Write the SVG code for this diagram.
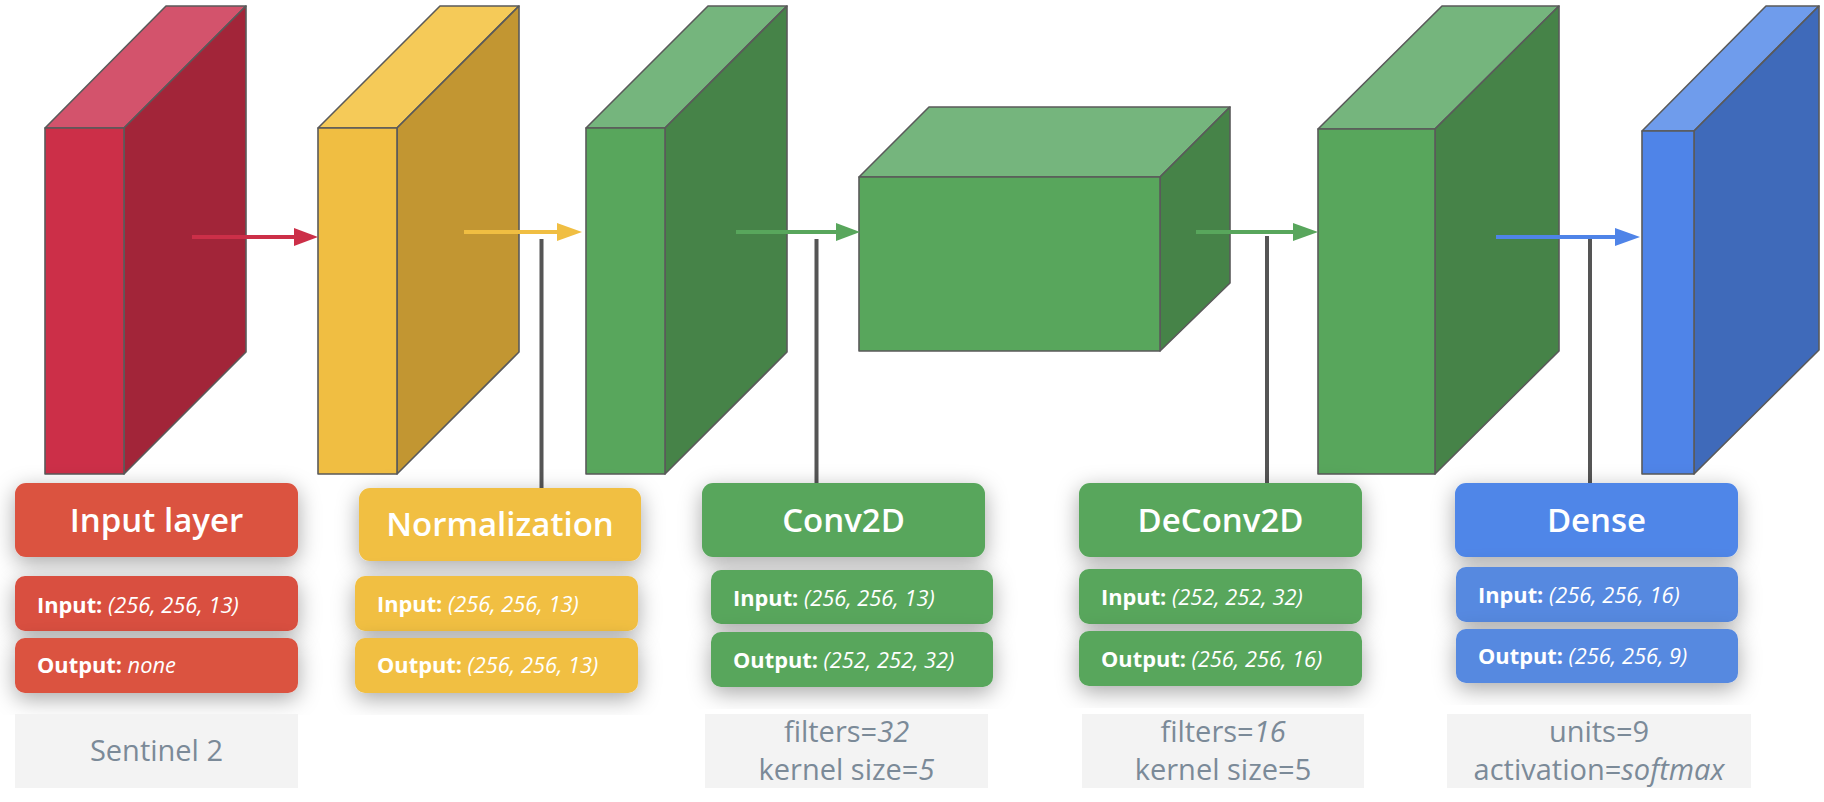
<svg xmlns="http://www.w3.org/2000/svg" width="1824" height="802" viewBox="0 0 1824 802">
<defs>
<style>
.f{stroke:#5a5a5a;stroke-width:1.6;stroke-linejoin:round}
.rf{fill:#cc2f48}.rt{fill:#d3536c}.rr{fill:#a22539}
.yf{fill:#f0be42}.yt{fill:#f5ca58}.yr{fill:#c29632}
.gf{fill:#58a65c}.gt{fill:#75b57d}.gr{fill:#468348}
.bf{fill:#4f84e8}.bt{fill:#6f9cec}.br{fill:#3f6aba}
.card{filter:url(#sh)}
.title{font-family:"Open Sans","Liberation Sans",sans-serif;font-weight:600;font-size:33px;fill:#fff;text-anchor:middle}
.row{font-family:"Open Sans","Liberation Sans",sans-serif;font-size:21.8px;fill:#fff}
.row .k{font-weight:700}
.it{font-style:italic;font-weight:400}
.note{fill:#f3f3f3}
.nt{font-family:"Open Sans","Liberation Sans",sans-serif;font-size:29px;fill:#7b8a98;text-anchor:middle}
.stem{stroke:#555;stroke-width:4}
</style>
<filter id="sh" x="-20%" y="-40%" width="140%" height="180%">
<feDropShadow dx="0" dy="6" stdDeviation="11" flood-color="#000" flood-opacity="0.34"/>
</filter>
</defs>
<rect width="1824" height="802" fill="#fff"/>

<g id="block-input">
<polygon class="f rt" points="45,128 166,6 246,6 124,128"/>
<polygon class="f rr" points="124,128 246,6 246,352 124,474"/>
<rect class="f rf" x="45" y="128" width="79" height="346"/>
</g>
<g id="block-norm">
<polygon class="f yt" points="318,128 440,6 519,6 397,128"/>
<polygon class="f yr" points="397,128 519,6 519,352 397,474"/>
<rect class="f yf" x="318" y="128" width="79" height="346"/>
</g>
<g id="block-conv">
<polygon class="f gt" points="586,128 708,6 787,6 665,128"/>
<polygon class="f gr" points="665,128 787,6 787,352 665,474"/>
<rect class="f gf" x="586" y="128" width="79" height="346"/>
</g>
<g id="block-mid">
<polygon class="f gt" points="859,177 929,107 1230,107 1160,177"/>
<polygon class="f gr" points="1160,177 1230,107 1230,283 1160,351"/>
<rect class="f gf" x="859" y="177" width="301" height="174"/>
</g>
<g id="block-deconv">
<polygon class="f gt" points="1318,129 1442,6 1559,6 1435,129"/>
<polygon class="f gr" points="1435,129 1559,6 1559,351 1435,474"/>
<rect class="f gf" x="1318" y="129" width="117" height="345"/>
</g>
<g id="block-dense">
<polygon class="f bt" points="1642,131 1766,6 1819,6 1694,131"/>
<polygon class="f br" points="1694,131 1819,6 1819,350 1694,474"/>
<rect class="f bf" x="1642" y="131" width="52" height="343"/>
</g>

<g id="connectors">
<line class="stem" x1="541.5" y1="239" x2="541.5" y2="490"/>
<line class="stem" x1="816.5" y1="239" x2="816.5" y2="485"/>
<line class="stem" x1="1267" y1="236" x2="1267" y2="485"/>
<line class="stem" x1="1590" y1="237" x2="1590" y2="485"/>
<line x1="192" y1="237" x2="297" y2="237" stroke="#cc2f48" stroke-width="4"/>
<polygon points="294,228 318,237 294,246" fill="#cc2f48"/>
<line x1="464" y1="232" x2="560" y2="232" stroke="#f0be42" stroke-width="4"/>
<polygon points="557,223 582,232 557,241" fill="#f0be42"/>
<line x1="736" y1="232" x2="838" y2="232" stroke="#58a65c" stroke-width="4"/>
<polygon points="836,223 860,232 836,241" fill="#58a65c"/>
<line x1="1196" y1="232" x2="1295" y2="232" stroke="#58a65c" stroke-width="4"/>
<polygon points="1293,223 1318,232 1293,241" fill="#58a65c"/>
<line x1="1496" y1="237" x2="1617" y2="237" stroke="#4f84e8" stroke-width="4"/>
<polygon points="1615,228 1640,237 1615,246" fill="#4f84e8"/>
</g>

<g id="card-input">
<rect class="card" x="15" y="483" width="283" height="74" rx="11" fill="#db5241"/>
<text class="title" x="156.5" y="532">Input layer</text>
<rect class="card" x="15" y="576" width="283" height="55" rx="10" fill="#d95040"/>
<text class="row" x="37" y="613"><tspan class="k">Input:</tspan> <tspan class="it">(256, 256, 13)</tspan></text>
<rect class="card" x="15" y="638" width="283" height="55" rx="10" fill="#db5241"/>
<text class="row" x="37" y="673"><tspan class="k">Output:</tspan> <tspan class="it">none</tspan></text>
</g>
<g id="note-input">
<rect class="note" x="15" y="714" width="283" height="74"/>
<text class="nt" x="156.5" y="761">Sentinel 2</text>
</g>

<g id="card-norm">
<rect class="card" x="359" y="488" width="282" height="73" rx="11" fill="#f1bf42"/>
<text class="title" x="500" y="536">Normalization</text>
<rect class="card" x="355" y="576" width="283" height="55" rx="10" fill="#f1bf42"/>
<text class="row" x="377" y="612"><tspan class="k">Input:</tspan> <tspan class="it">(256, 256, 13)</tspan></text>
<rect class="card" x="355" y="638" width="283" height="55" rx="10" fill="#f1bf42"/>
<text class="row" x="377" y="673"><tspan class="k">Output:</tspan> <tspan class="it">(256, 256, 13)</tspan></text>
</g>

<g id="card-conv">
<rect class="card" x="702" y="483" width="283" height="74" rx="11" fill="#58a65c"/>
<text class="title" x="843.5" y="532">Conv2D</text>
<rect class="card" x="711" y="570" width="282" height="54" rx="10" fill="#58a65c"/>
<text class="row" x="733" y="606"><tspan class="k">Input:</tspan> <tspan class="it">(256, 256, 13)</tspan></text>
<rect class="card" x="711" y="632" width="282" height="55" rx="10" fill="#58a65c"/>
<text class="row" x="733" y="668"><tspan class="k">Output:</tspan> <tspan class="it">(252, 252, 32)</tspan></text>
</g>
<g id="note-conv">
<rect class="note" x="705" y="714" width="283" height="74"/>
<text class="nt" x="846.5" y="742">filters=<tspan font-style="italic">32</tspan></text>
<text class="nt" x="846.5" y="780">kernel size=<tspan font-style="italic">5</tspan></text>
</g>

<g id="card-deconv">
<rect class="card" x="1079" y="483" width="283" height="74" rx="11" fill="#58a65c"/>
<text class="title" x="1220.5" y="532">DeConv2D</text>
<rect class="card" x="1079" y="569" width="283" height="55" rx="10" fill="#58a65c"/>
<text class="row" x="1101" y="605"><tspan class="k">Input:</tspan> <tspan class="it">(252, 252, 32)</tspan></text>
<rect class="card" x="1079" y="631" width="283" height="55" rx="10" fill="#58a65c"/>
<text class="row" x="1101" y="667"><tspan class="k">Output:</tspan> <tspan class="it">(256, 256, 16)</tspan></text>
</g>
<g id="note-deconv">
<rect class="note" x="1082" y="714" width="282" height="74"/>
<text class="nt" x="1223" y="742">filters=<tspan font-style="italic">16</tspan></text>
<text class="nt" x="1223" y="780">kernel size=5</text>
</g>

<g id="card-dense">
<rect class="card" x="1455" y="483" width="283" height="74" rx="11" fill="#4f86e8"/>
<text class="title" x="1596.5" y="532">Dense</text>
<rect class="card" x="1456" y="567" width="282" height="55" rx="10" fill="#5689e0"/>
<text class="row" x="1478" y="603"><tspan class="k">Input:</tspan> <tspan class="it">(256, 256, 16)</tspan></text>
<rect class="card" x="1456" y="629" width="282" height="54" rx="10" fill="#5689e0"/>
<text class="row" x="1478" y="664"><tspan class="k">Output:</tspan> <tspan class="it">(256, 256, 9)</tspan></text>
</g>
<g id="note-dense">
<rect class="note" x="1447" y="714" width="304" height="74"/>
<text class="nt" x="1599" y="742">units=9</text>
<text class="nt" x="1599" y="780">activation=<tspan font-style="italic">softmax</tspan></text>
</g>
</svg>
